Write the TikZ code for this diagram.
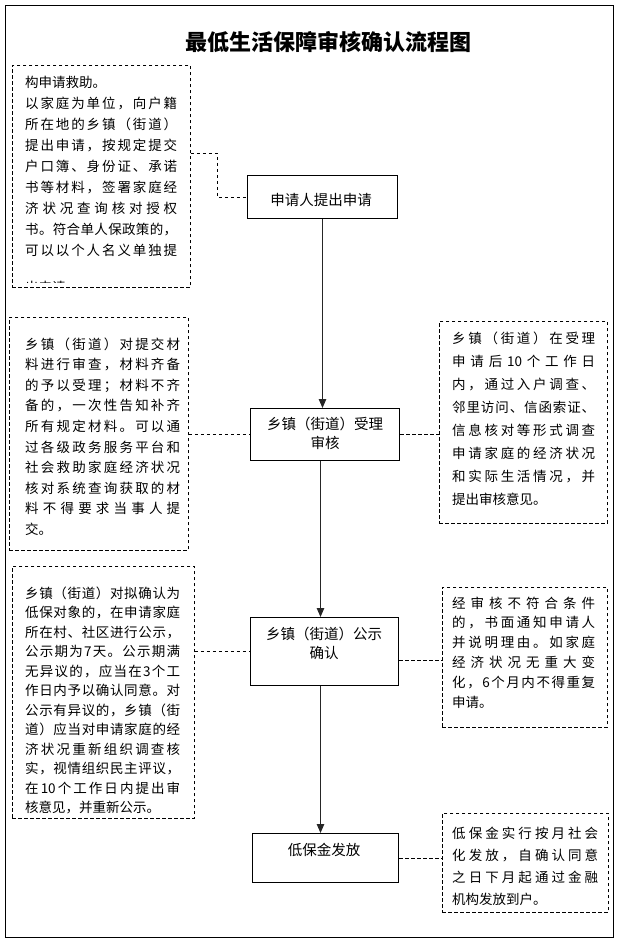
\documentclass[tikz,border=0pt]{standalone}
\usepackage{fontspec}
\setmainfont{Noto Sans CJK SC}
\usetikzlibrary{arrows.meta}
\newdimen\jw
\makeatletter
\def\jl@end{\jl@end}
\def\jl#1{\hbox to\jw{\jl@#1\jl@end}}
\def\jl@#1{\ifx\jl@end#1\unskip\else#1\hfil\expandafter\jl@\fi}
\makeatother
\def\numten{10}
\tikzset{
  dbox/.style={draw, dash pattern=on 3.5pt off 2.5pt, line width=0.8pt, inner sep=0pt, anchor=north west},
  pbox/.style={draw, line width=1pt, inner sep=0pt, anchor=north west},
  ptxt/.style={inner sep=0pt, align=center, font=\fontsize{14.5}{19}\selectfont},
  btxt/.style={inner sep=0pt, anchor=base west, font=\fontsize{13.5}{20}\selectfont},
  dline/.style={dash pattern=on 3.5pt off 2.5pt, line width=0.8pt},
  arr/.style={-{Triangle[length=9pt,width=7.5pt]}, line width=0.9pt, draw=black!85},
}
\begin{document}
\begin{tikzpicture}[x=1pt,y=-1pt]
\useasboundingbox (0,0) rectangle (618,945);
\draw[line width=1pt] (5,5) rectangle (613,937);

\node (title) at (328,42) {\fontsize{22}{26}\selectfont\bfseries 最低生活保障审核确认流程图};

% process boxes
\node[pbox, minimum width=150pt, minimum height=43pt] (p1) at (247,175) {};
\node[pbox, minimum width=149pt, minimum height=52pt] (p2) at (250,408) {};
\node[pbox, minimum width=148pt, minimum height=68pt] (p3) at (250,617) {};
\node[pbox, minimum width=146pt, minimum height=49pt] (p4) at (252,833) {};
\node[ptxt] (tp1) at (321,200) {申请人提出申请};
\node[ptxt] (tp2) at (325,433.5) {乡镇（街道）受理\\审核};
\node[ptxt] (tp3) at (324,643) {乡镇（街道）公示\\确认};
\node[ptxt] (tp4) at (324,850) {低保金发放};

% dashed boxes
\node[dbox, minimum width=178pt, minimum height=222pt] (b1) at (12,65) {};
\node[dbox, minimum width=179pt, minimum height=233pt] (b3) at (9,317) {};
\node[dbox, minimum width=168pt, minimum height=202pt] (b4) at (439,321) {};
\node[dbox, minimum width=182pt, minimum height=252pt] (b6) at (12,566) {};
\node[dbox, minimum width=165pt, minimum height=140pt] (b7) at (442,587) {};
\node[dbox, minimum width=166pt, minimum height=99pt] (b9) at (442,813) {};

\begin{scope}
\clip (12,65) rectangle (190,282);
\node[btxt] (t1) at (25,87.1) {\vtop{\jw=152pt \baselineskip=21pt
  \hbox{构申请救助。}
  \jl{以家庭为单位，向户籍}
  \jl{所在地的乡镇（街道）}
  \jl{提出申请，按规定提交}
  \jl{户口簿、身份证、承诺}
  \jl{书等材料，签署家庭经}
  \jl{济状况查询核对授权}
  \jl{书。符合单人保政策的，}
  \jl{可以以个人名义单独提}}};
\node[btxt] (t1b) at (25,292) {出申请。};
\end{scope}

\node[btxt] (t3) at (25,349.1) {\vtop{\jw=155pt \baselineskip=20.6pt
  \jl{乡镇（街道）对提交材}
  \jl{料进行审查，材料齐备}
  \jl{的予以受理；材料不齐}
  \jl{备的，一次性告知补齐}
  \jl{所有规定材料。可以通}
  \jl{过各级政务服务平台和}
  \jl{社会救助家庭经济状况}
  \jl{核对系统查询获取的材}
  \jl{料不得要求当事人提}
  \hbox{交。}}};

\node[btxt] (t4) at (452,343.1) {\vtop{\jw=143pt \baselineskip=23.1pt
  \jl{乡镇（街道）在受理}
  \jl{申请后\numten 个工作日}
  \jl{内，通过入户调查、}
  \jl{邻里访问、信函索证、}
  \jl{信息核对等形式调查}
  \jl{申请家庭的经济状况}
  \jl{和实际生活情况，并}
  \hbox{提出审核意见。}}};

\node[btxt] (t6) at (25,598.1) {\vtop{\jw=155pt \baselineskip=19.5pt
  \jl{乡镇（街道）对拟确认为}
  \jl{低保对象的，在申请家庭}
  \jl{所在村、社区进行公示，}
  \jl{公示期为7天。公示期满}
  \jl{无异议的，应当在3个工}
  \jl{作日内予以确认同意。对}
  \jl{公示有异议的，乡镇（街}
  \jl{道）应当对申请家庭的经}
  \jl{济状况重新组织调查核}
  \jl{实，视情组织民主评议，}
  \jl{在\numten 个工作日内提出审}
  \hbox{核意见，并重新公示。}}};

\node[btxt] (t7) at (452,608.1) {\vtop{\jw=143pt \baselineskip=19.8pt
  \jl{经审核不符合条件}
  \jl{的，书面通知申请人}
  \jl{并说明理由。如家庭}
  \jl{经济状况无重大变}
  \jl{化，6个月内不得重复}
  \hbox{申请。}}};

\node[btxt] (t9) at (452,838.1) {\vtop{\jw=146pt \baselineskip=22pt
  \jl{低保金实行按月社会}
  \jl{化发放，自确认同意}
  \jl{之日下月起通过金融}
  \hbox{机构发放到户。}}};

% arrows
\draw[arr] (p1.south) -- (p1.south |- p2.north);
\draw[arr] ([xshift=-4.5pt]p2.south) -- ([xshift=-4.5pt]p2.south |- p3.north);
\draw[arr] ([xshift=-4pt]p3.south) -- ([xshift=-4pt]p3.south |- p4.north);

% dashed connectors
\coordinate (k1) at (217,153);
\draw[dline] (b1.east |- k1) -- (k1) |- (p1.west);
\draw[dline] (b3.east) -- (b3.east -| p2.west);
\draw[dline] (p2.east) -- (p2.east -| b4.west);
\draw[dline] (b6.east |- p3.west) -- (p3.west);
\draw[dline] ([yshift=-9pt]p3.east) -- ([yshift=-9pt]p3.east -| b7.west);
\draw[dline] (p4.east) -- (p4.east -| b9.west);
\end{tikzpicture}
\end{document}
